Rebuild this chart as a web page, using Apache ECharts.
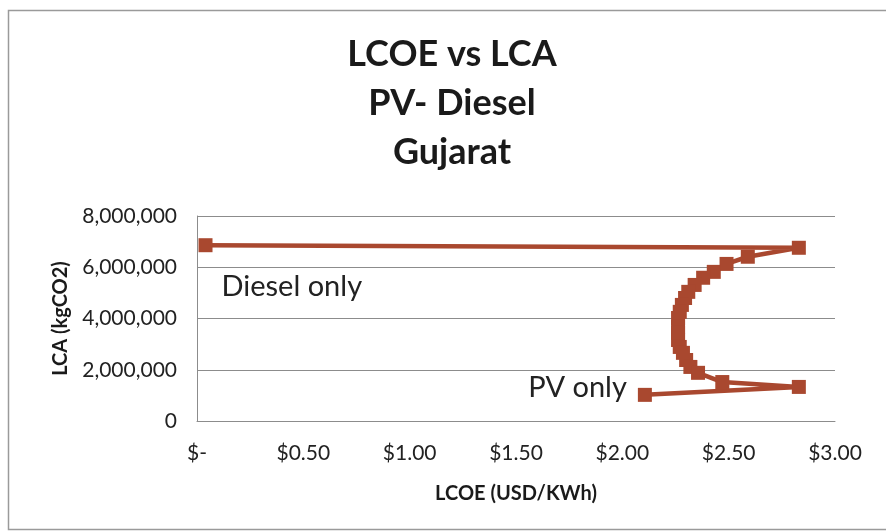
<!DOCTYPE html>
<html>
<head>
<meta charset="utf-8">
<title>LCOE vs LCA — PV-Diesel, Gujarat</title>
<script src="https://cdn.jsdelivr.net/npm/echarts@6/dist/echarts.min.js"></script>
<style>
  html, body { margin: 0; padding: 0; background: #ffffff; }
  #chart { width: 886px; height: 531px; }
</style>
</head>
<body>
<div id="chart"></div>
<script>
// LCOE (USD/kWh) and life-cycle emissions (kgCO2) for each PV/diesel mix,
// running from diesel only to PV only.
const lcoe = [
  0.04, 2.83, 2.59, 2.49, 2.43, 2.38, 2.34, 2.31, 2.295, 2.28, 2.27, 2.262,
  2.262, 2.262, 2.262, 2.27, 2.285, 2.3, 2.32, 2.356, 2.47, 2.83, 2.106
];
const lca = [
  6860000, 6760000, 6410000, 6130000, 5820000, 5590000, 5310000, 5040000,
  4800000, 4530000, 4260000, 4020000, 3670000, 3440000, 3160000, 2890000,
  2660000, 2380000, 2110000, 1880000, 1520000, 1330000, 1020000
];
const pointNames = ['Diesel only', 'PV only'];

const xTicks = { min: 0, max: 3, step: 0.5 };
const yTicks = { min: 0, max: 8000000, step: 2000000 };

const FONT = 'Lato, "Open Sans", sans-serif';
const MARK = '#A9482F';

const fmtMoney = v => (v === 0 ? '$-' : '$' + v.toFixed(2));
const fmtThousands = v => v.toLocaleString('en-US');

const last = lcoe.length - 1;
const seriesData = lcoe.map((x, i) => {
  const item = { value: [x, lca[i]] };
  if (i === 0) {
    item.label = {
      show: true, formatter: pointNames[0], position: 'right',
      offset: [4, 41], fontSize: 29, fontFamily: FONT, color: '#222'
    };
  } else if (i === last) {
    item.label = {
      show: true, formatter: pointNames[1], position: 'left',
      offset: [-6, -7], fontSize: 29, fontFamily: FONT, color: '#222'
    };
  }
  return item;
});

const chart = echarts.init(document.getElementById('chart'), null, { renderer: 'canvas' });
chart.setOption({
  backgroundColor: '#ffffff',
  animation: false,
  graphic: [
    {
      type: 'rect', silent: true, z: -10,
      shape: { x: 8.5, y: 10.5, width: 900, height: 519 },
      style: { fill: 'none', stroke: '#9a9a9a', lineWidth: 1.5 }
    },
    {
      type: 'text', x: 452, y: 30,
      style: {
        text: 'LCOE vs LCA\nPV- Diesel\nGujarat',
        fontFamily: FONT, fontWeight: 'bold', fontSize: 36, lineHeight: 49,
        align: 'center', fill: '#1a1a1a'
      }
    }
  ],
  grid: { left: 197, right: 51, top: 216, bottom: 110, show: false },
  xAxis: {
    type: 'value',
    min: xTicks.min, max: xTicks.max, interval: xTicks.step,
    name: 'LCOE (USD/KWh)', nameLocation: 'middle', nameGap: 63,
    nameTextStyle: { fontFamily: FONT, fontWeight: 'bold', fontSize: 20, color: '#1a1a1a' },
    axisLine: { show: true, lineStyle: { color: '#8c8c8c', width: 1 } },
    axisTick: { show: false },
    splitLine: { show: false },
    axisLabel: {
      formatter: fmtMoney, margin: 22,
      fontFamily: FONT, fontSize: 21, color: '#222'
    }
  },
  yAxis: {
    type: 'value',
    min: yTicks.min, max: yTicks.max, interval: yTicks.step,
    name: 'LCA (kgCO2)', nameLocation: 'middle', nameGap: 126,
    nameTextStyle: { fontFamily: FONT, fontWeight: 'bold', fontSize: 20, color: '#1a1a1a' },
    axisLine: { show: true, lineStyle: { color: '#8c8c8c', width: 1 } },
    axisTick: { show: false },
    splitLine: { show: true, lineStyle: { color: '#8c8c8c', width: 1 } },
    axisLabel: {
      formatter: fmtThousands, margin: 20,
      fontFamily: FONT, fontSize: 21, color: '#222'
    }
  },
  series: [{
    type: 'line',
    data: seriesData,
    symbol: 'rect', symbolSize: 14,
    lineStyle: { color: MARK, width: 4.5 },
    itemStyle: { color: MARK },
    clip: false
  }]
});
</script>
</body>
</html>
